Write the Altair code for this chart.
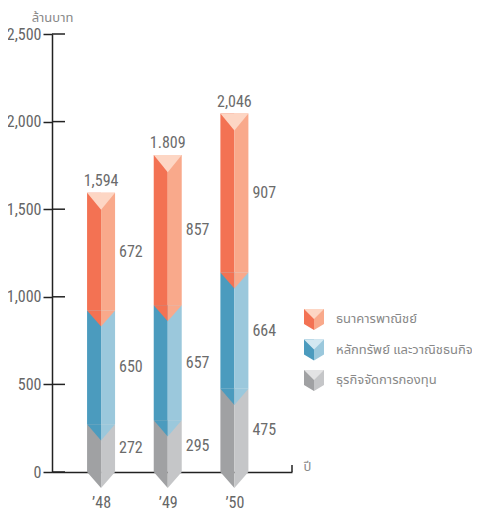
import altair as alt
import pandas as pd

# ---- data ----
years = ["’48", "’49", "’50"]
series_names = ["ธนาคารพาณิชย์", "หลักทรัพย์ และวาณิชธนกิจ", "ธุรกิจจัดการกองทุน"]  # legend order
fund_vals = [272, 295, 475]      # ธุรกิจจัดการกองทุน (bottom, grey)
sec_vals = [650, 657, 664]       # หลักทรัพย์ และวาณิชธนกิจ (middle, blue)
bank_vals = [672, 857, 907]      # ธนาคารพาณิชย์ (top, orange)
total_labels = ["1,594", "1.809", "2,046"]
y_ticks = [0, 500, 1000, 1500, 2000, 2500]

dark_colors = ["#f37253", "#4b9bbe", "#a0a1a3"]
light_colors = ["#f9a98b", "#9bc8dc", "#c5c6c8"]
pale_colors = ["#fdd6c4", "#d3e8f1", "#e3e3e4"]

FONT = "'Roboto Condensed', 'Noto Sans Condensed', 'Open Sans Condensed', 'Liberation Sans Narrow', 'DejaVu Sans Condensed', sans-serif"
THAI_FONT = "'Noto Sans Thai', 'Noto Sans', 'DejaVu Sans', sans-serif"

# ---- build tables ----
rows = []
for i, yr in enumerate(years):
    base = 0
    for name, vals in [(series_names[2], fund_vals), (series_names[1], sec_vals), (series_names[0], bank_vals)]:
        v = vals[i]
        rows.append(dict(year=yr, series=name, y0=base, y1=base + v, mid=base + v / 2,
                         label=str(v), is_top=(name == series_names[0])))
        base += v
df = pd.DataFrame(rows)
tot = pd.DataFrame({"year": years,
                    "top": [f + s + b for f, s, b in zip(fund_vals, sec_vals, bank_vals)],
                    "text": total_labels})
ticks_df = pd.DataFrame({"v": y_ticks})

# ---- shared encodings ----
xscale = alt.Scale(type="point", domain=years, padding=0.8, align=0.46)
xenc = alt.X("year:N", scale=xscale, sort=years,
             axis=alt.Axis(title="ปี", titleX=251, titleY=-6, titleAlign="left", titleBaseline="middle",
                           titleFont=THAI_FONT, titleFontSize=13, titleFontWeight="normal", titleColor="#888",
                           labelAngle=0, labelFont=FONT, labelFontSize=16, labelColor="#666",
                           labelPadding=22, ticks=False, domainColor="#222", domainWidth=1.5))
yscale = alt.Scale(domain=[0, 2500], nice=False, zero=True)
yaxis = alt.Axis(values=y_ticks, format=",.0f", title="ล้านบาท", titleAngle=0, titleX=0, titleY=-17,
                 titleAlign="center", titleBaseline="middle", titleFont=THAI_FONT, titleFontSize=13,
                 titleFontWeight="normal", titleColor="#888",
                 labelFont=FONT, labelFontSize=16, labelColor="#666", labelPadding=2,
                 tickSize=9, tickColor="#222", tickWidth=1.5, domainColor="#222", domainWidth=1.5, grid=False)


def Y(field):
    return alt.Y(field, scale=yscale, axis=yaxis)


# legend icon pieces; each path carries the same bounding box (degenerate extra sub-paths)
BOX = "M-1,-1L-1,-1M1,1.1L1,1.1"
ICON_L = "M-1,-1L0,-1L0,1.1L-1,0.5Z" + BOX
ICON_R = "M0,-1L1,-1L1,0.5L0,1.1Z" + BOX
ICON_TOP = "M-1,-1L1,-1L0,0Z" + BOX


def legend(symbol, show_labels):
    return alt.Legend(orient="none", legendX=252, legendY=275, title=None, padding=0,
                      symbolType=symbol, symbolSize=400, symbolStrokeWidth=0, symbolOpacity=1,
                      labelFont=THAI_FONT, labelFontSize=13, labelColor="#888", labelOffset=12,
                      labelOpacity=1 if show_labels else 0, rowPadding=9.5)


def cscale(rng):
    return alt.Scale(domain=series_names, range=rng)


base = alt.Chart(df)

bars_left = base.mark_bar(width=14, xOffset=-7).encode(
    x=xenc, y=Y("y1:Q"), y2="y0:Q",
    color=alt.Color("series:N", scale=cscale(dark_colors), legend=legend(ICON_L, True)))
bars_right = base.mark_bar(width=14, xOffset=7).encode(
    x=xenc, y=Y("y1:Q"), y2="y0:Q",
    color=alt.Color("series:N", scale=cscale(light_colors), legend=legend(ICON_R, False)))
# zero-height bars: carry the pale legend layer only
pale_legend = base.mark_bar(width=14).encode(
    x=xenc, y=Y("y1:Q"), y2="y1:Q",
    color=alt.Color("series:N", scale=cscale(pale_colors), legend=legend(ICON_TOP, False)))

TRI_L = "M-1,0L0,0L0,1.15Z"
TRI_R = "M0,0L1,0L0,1.15Z"
TRI_TOP = "M-1,0L1,0L0,1.22Z"

chev_left = base.mark_point(shape=TRI_L, size=784, filled=True, opacity=1, strokeWidth=0).encode(
    x=xenc, y=Y("y0:Q"),
    color=alt.Color("series:N", scale=cscale(dark_colors), legend=None))
chev_right = base.mark_point(shape=TRI_R, size=784, filled=True, opacity=1, strokeWidth=0).encode(
    x=xenc, y=Y("y0:Q"),
    color=alt.Color("series:N", scale=cscale(light_colors), legend=None))
top_tri = base.transform_filter("datum.is_top").mark_point(
    shape=TRI_TOP, size=784, filled=True, opacity=1, strokeWidth=0).encode(
    x=xenc, y=Y("y1:Q"),
    color=alt.Color("series:N", scale=cscale(pale_colors), legend=None))

value_labels = base.mark_text(align="left", baseline="middle", dx=18, font=FONT, fontSize=16,
                              color="#6b6b6b").encode(x=xenc, y=Y("mid:Q"), text="label:N")
total_text = alt.Chart(tot).mark_text(align="center", baseline="bottom", dy=-4, font=FONT, fontSize=16,
                                      color="#6b6b6b").encode(x=xenc, y=Y("top:Q"), text="text:N")

inner_ticks = alt.Chart(ticks_df).mark_rule(color="#222", strokeWidth=1.5).encode(
    y=Y("v:Q"), x=alt.value(0), x2=alt.value(13))
end_tick = alt.Chart(ticks_df.head(1)).mark_rule(color="#222", strokeWidth=1.5).encode(
    x=alt.value(240), y=alt.value(431), y2=alt.value(438))

chart = alt.layer(
    bars_left, bars_right, pale_legend, chev_left, chev_right, top_tri,
    value_labels, total_text, inner_ticks, end_tick
).resolve_scale(color="independent").properties(
    width=240, height=438,
    padding={"left": 44, "top": 26, "right": 180, "bottom": 38},
    autosize=alt.AutoSizeParams(type="none"),
    background="white",
).configure_view(stroke=None)

chart.save("out.html", embed_options={"renderer": "svg", "actions": False})
